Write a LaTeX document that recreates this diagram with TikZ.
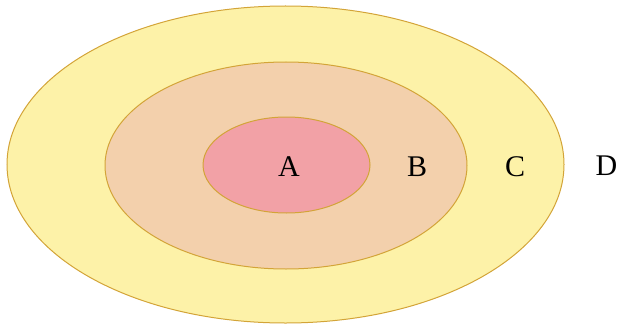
\documentclass[tikz,border=0pt]{standalone}
\usepackage{fontspec}
\setmainfont{Liberation Serif}
\usetikzlibrary{shapes.geometric}
\definecolor{cfill}{HTML}{FDF2A8}
\definecolor{bfill}{HTML}{F3D0AC}
\definecolor{afill}{HTML}{F2A1A6}
\definecolor{edge}{HTML}{D3A438}
\begin{document}
\begin{tikzpicture}[x=1pt,y=-1pt,
  ring/.style={ellipse,draw=edge,line width=1pt,inner sep=0pt},
  lbl/.style={font=\fontsize{30}{30}\selectfont,inner sep=0pt}]
\useasboundingbox (0,0) rectangle (618,329);
\node[ring,fill=cfill,minimum width=557,minimum height=317] (c) at (285.5,164.5) {};
\node[ring,fill=bfill,minimum width=362,minimum height=207] (b) at (286,165.5) {};
\node[ring,fill=afill,minimum width=167,minimum height=96] (a) at (286.5,165) {};
\node[lbl] (la) at (289,167) {A};
\node[lbl] (lb) at (417,167) {B};
\node[lbl] (lc) at (515,167) {C};
\node[lbl] (ld) at (606.5,166) {D};
\end{tikzpicture}
\end{document}
